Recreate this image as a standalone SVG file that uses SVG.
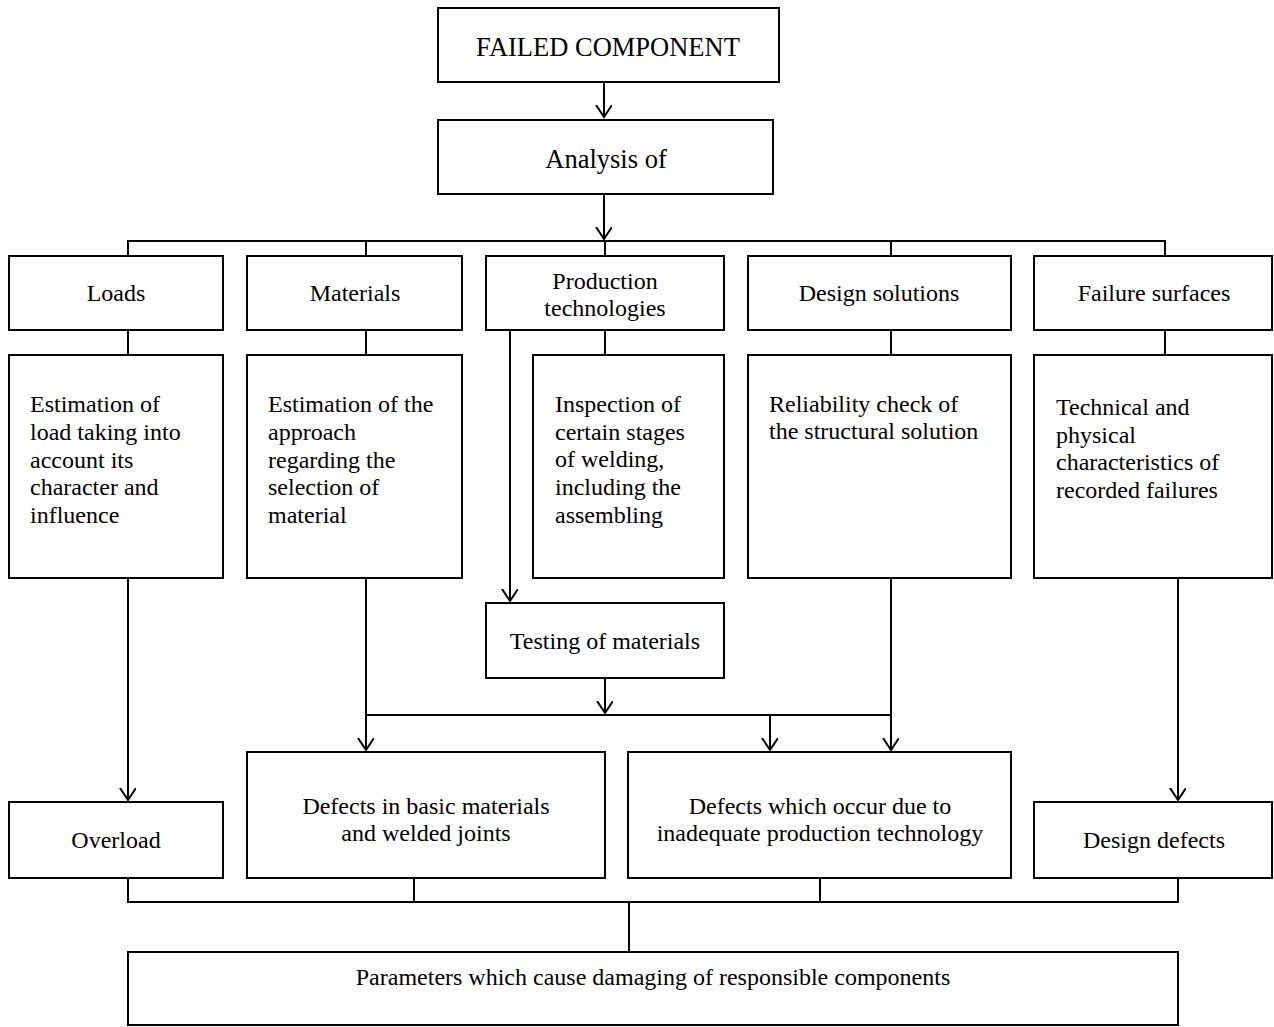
<svg xmlns="http://www.w3.org/2000/svg" width="1274" height="1027" viewBox="0 0 1274 1027">
<style>
.b{fill:#fff;stroke:#000;stroke-width:2}
.t{font-family:"Liberation Serif","Times New Roman",serif;font-size:24px;fill:#000}
.c{text-anchor:middle}
.l{fill:none;stroke:#000;stroke-width:2}
</style>
<defs>
<marker id="a" markerWidth="20" markerHeight="20" refX="12" refY="8" orient="auto" markerUnits="userSpaceOnUse">
<path d="M0,0 L12,8 L0,16" fill="none" stroke="#000" stroke-width="2"/>
</marker>
</defs>
<rect width="1274" height="1027" fill="#fff"/>
<g id="connectors">
<path class="l" d="M604,82 V117" marker-end="url(#a)"/>
<path class="l" d="M604,194 V239" marker-end="url(#a)"/>
<path class="l" d="M128,256 V241 H1165 V256 M366,241 V256 M605,241 V256 M891,241 V256"/>
<path class="l" d="M128,330 V355 M366,330 V355 M605,330 V355 M891,330 V355 M1165,330 V355"/>
<path class="l" d="M510,330 V601" marker-end="url(#a)"/>
<path class="l" d="M605,678 V713" marker-end="url(#a)"/>
<path class="l" d="M366,715 H891"/>
<path class="l" d="M366,578 V750" marker-end="url(#a)"/>
<path class="l" d="M891,578 V750" marker-end="url(#a)"/>
<path class="l" d="M770,715 V750" marker-end="url(#a)"/>
<path class="l" d="M128,578 V800" marker-end="url(#a)"/>
<path class="l" d="M1178,578 V800" marker-end="url(#a)"/>
<path class="l" d="M128,878 V902 H1178 V878 M414,878 V902 M820,878 V902 M629,902 V952"/>
</g>
<g id="failed"><rect class="b" x="438" y="8" width="341" height="74"/><text class="t c" x="608" y="56" style="font-size:26.5px">FAILED COMPONENT</text></g>
<g id="analysis"><rect class="b" x="438" y="120" width="335" height="74"/><text class="t c" x="606" y="168" style="font-size:26.5px">Analysis of</text></g>
<g id="loads"><rect class="b" x="9" y="256" width="214" height="74"/><text class="t c" x="116" y="301">Loads</text></g>
<g id="materials"><rect class="b" x="247" y="256" width="215" height="74"/><text class="t c" x="355" y="301">Materials</text></g>
<g id="production"><rect class="b" x="486" y="256" width="238" height="74"/><text class="t c" x="605" y="289">Production</text><text class="t c" x="605" y="316">technologies</text></g>
<g id="design"><rect class="b" x="748" y="256" width="263" height="74"/><text class="t c" x="879" y="301">Design solutions</text></g>
<g id="surfaces"><rect class="b" x="1034" y="256" width="238" height="74"/><text class="t c" x="1154" y="301">Failure surfaces</text></g>
<g id="loads-est"><rect class="b" x="9" y="355" width="214" height="223"/>
<text class="t" x="30" y="412">Estimation of</text><text class="t" x="30" y="440">load taking into</text><text class="t" x="30" y="468">account its</text><text class="t" x="30" y="495">character and</text><text class="t" x="30" y="523">influence</text></g>
<g id="mat-est"><rect class="b" x="247" y="355" width="215" height="223"/>
<text class="t" x="268" y="412">Estimation of the</text><text class="t" x="268" y="440">approach</text><text class="t" x="268" y="468">regarding the</text><text class="t" x="268" y="495">selection of</text><text class="t" x="268" y="523">material</text></g>
<g id="inspection"><rect class="b" x="533" y="355" width="191" height="223"/>
<text class="t" x="555" y="412">Inspection of</text><text class="t" x="555" y="440">certain stages</text><text class="t" x="555" y="467">of welding,</text><text class="t" x="555" y="495">including the</text><text class="t" x="555" y="523">assembling</text></g>
<g id="reliability"><rect class="b" x="748" y="355" width="263" height="223"/>
<text class="t" x="769" y="412">Reliability check of</text><text class="t" x="769" y="439">the structural solution</text></g>
<g id="technical"><rect class="b" x="1034" y="355" width="238" height="223"/>
<text class="t" x="1056" y="415">Technical and</text><text class="t" x="1056" y="443">physical</text><text class="t" x="1056" y="470">characteristics of</text><text class="t" x="1056" y="498">recorded failures</text></g>
<g id="testing"><rect class="b" x="486" y="603" width="238" height="75"/><text class="t c" x="605" y="649">Testing of materials</text></g>
<g id="overload"><rect class="b" x="9" y="802" width="214" height="76"/><text class="t c" x="116" y="848">Overload</text></g>
<g id="defects-basic"><rect class="b" x="247" y="752" width="358" height="126"/><text class="t c" x="426" y="814">Defects in basic materials</text><text class="t c" x="426" y="841">and welded joints</text></g>
<g id="defects-prod"><rect class="b" x="628" y="752" width="383" height="126"/><text class="t c" x="820" y="814">Defects which occur due to</text><text class="t c" x="820" y="841">inadequate production technology</text></g>
<g id="design-defects"><rect class="b" x="1034" y="802" width="238" height="76"/><text class="t c" x="1154" y="848">Design defects</text></g>
<g id="parameters"><rect class="b" x="128" y="952" width="1050" height="73"/><text class="t c" x="653" y="985">Parameters which cause damaging of responsible components</text></g>
</svg>
